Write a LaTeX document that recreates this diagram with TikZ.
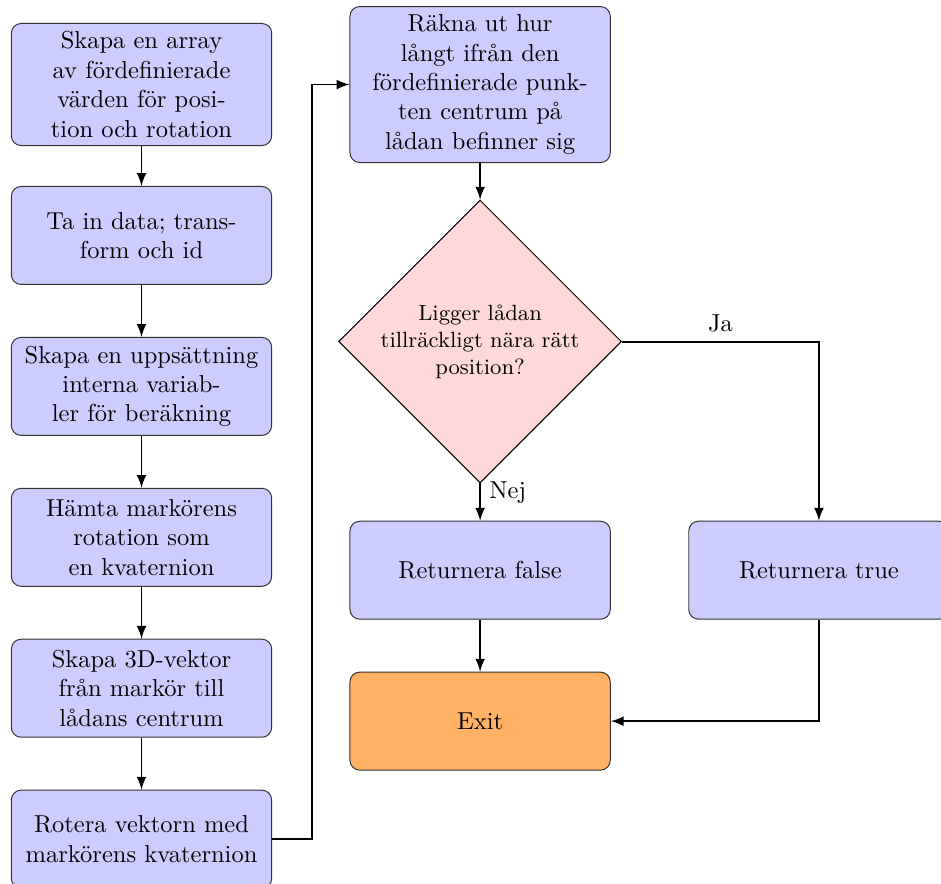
\documentclass[tikz,border=0pt]{standalone}
\tikzset{>=latex}
\usetikzlibrary{positioning,shapes.geometric}
\tikzset{
  box/.style={draw=black!80, rounded corners, fill=blue!20, text width=3.5cm, align=center, minimum height=40pt},
  exitbox/.style={box, fill=orange!60},
  choice/.style={draw, diamond, fill=red!15, text width=3.0cm, align=center, inner sep=0pt, minimum width=115pt, font=\small},
  flow/.style={thick, ->}
}
\begin{document}
\begin{tikzpicture}
      \useasboundingbox (-57.76pt,34.5pt) rectangle (326.3pt,-325.9pt);
      % left column
      \node[box] (n1) at (0,0) {Skapa en array\\ av fördefinierade\\ värden för posi-\\ tion och rotation};
      \node[box, below of=n1, node distance=2.165cm] (n2) {Ta in data; trans-\\ form och id};
      \node[box, below of=n2, node distance=2.165cm] (n3) {Skapa en uppsättning\\ interna variab-\\ ler för beräkning};
      \node[box, below of=n3, node distance=2.165cm] (n4) {Hämta markörens\\ rotation som\\ en kvaternion};
      \node[box, below of=n4, node distance=2.165cm] (n5) {Skapa 3D-vektor\\ från markör till\\ lådans centrum};
      \node[box, below of=n5, node distance=2.165cm] (n6) {Rotera vektorn med\\ markörens kvaternion};
      % right column
      \node[box, right of=n1, node distance=4.857cm] (n7) {Räkna ut hur\\ långt ifrån den\\ fördefinierade punk-\\ ten centrum på\\ lådan befinner sig};
      \node[choice, below of=n7, node distance=3.687cm] (n8) {Ligger lådan\\ tillräckligt nära rätt\\ position?};
      \node[box, below of=n8, node distance=3.28cm] (n91) {Returnera false};
      \node[box, right of=n91, node distance=4.86cm] (n92) {Returnera true};
      \node[exitbox, below of=n91, node distance=2.165cm] (n10) {Exit};
      \draw[flow] (n1) to (n2);
      \draw[flow] (n2) to (n3);
      \draw[flow] (n3) to (n4);
      \draw[flow] (n4) to (n5);
      \draw[flow] (n5) to (n6);
      \draw[flow] (n6.east) -- ++(16.3pt,0) |- (n7.west);
      \draw[flow] (n7) to (n8);
      \draw[flow] (n8.south) to node[right, pos=0.25]{Nej} (n91);
      \draw[flow] (n8.east) -| node[above, pos=0.25]{Ja} (n92);
      \draw[flow] (n91) to (n10);
      \draw[flow] (n92.south) |- (n10.east);
    \end{tikzpicture}
\end{document}
